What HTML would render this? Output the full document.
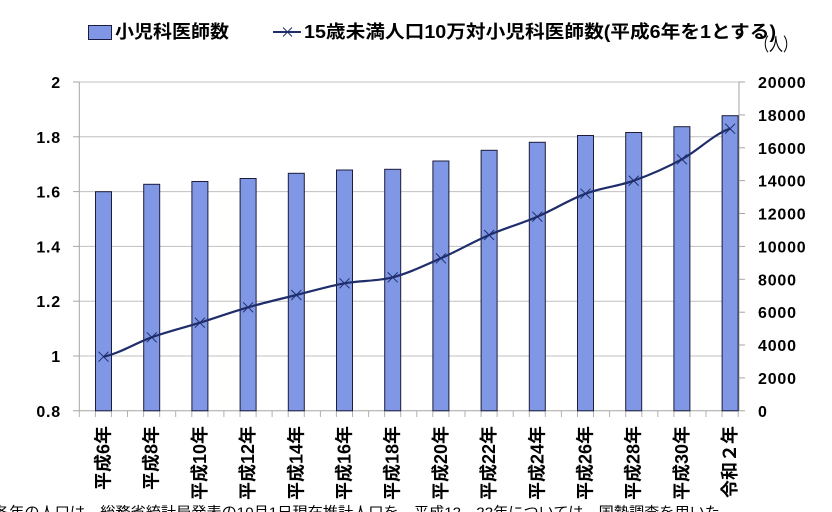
<!DOCTYPE html>
<html><head><meta charset="utf-8">
<style>
html,body{margin:0;padding:0;background:#fff;}
svg{display:block;}
text{font-family:"Liberation Sans","Noto Sans CJK JP",sans-serif;}
</style></head>
<body>
<svg width="832" height="512" viewBox="0 0 832 512" xmlns="http://www.w3.org/2000/svg">
<rect width="832" height="512" fill="#fff"/>
<!-- legend -->
<rect x="88.5" y="25.5" width="23" height="14" fill="#7f97e4" stroke="#1c1c3c" stroke-width="1"/>
<text x="115" y="38" font-size="18" font-weight="bold" textLength="114" lengthAdjust="spacingAndGlyphs">小児科医師数</text>
<line x1="273" y1="32" x2="301" y2="32" stroke="#1f2d6b" stroke-width="2"/>
<path d="M283,27.5 L292,36.5 M283,36.5 L292,27.5" stroke="#1f2d6b" stroke-width="1"/>
<text x="304" y="38" font-size="18" font-weight="bold" textLength="472" lengthAdjust="spacingAndGlyphs">15歳未満人口10万対小児科医師数(平成6年を1とする)</text>
<text x="755" y="51" font-size="18" textLength="42" lengthAdjust="spacingAndGlyphs">（人）</text>

<!-- gridlines -->
<g stroke="#c0c0c0" stroke-width="1">
<line x1="79" y1="82" x2="739" y2="82"/>
<line x1="79" y1="136.8" x2="739" y2="136.8"/>
<line x1="79" y1="191.6" x2="739" y2="191.6"/>
<line x1="79" y1="246.4" x2="739" y2="246.4"/>
<line x1="79" y1="301.2" x2="739" y2="301.2"/>
<line x1="79" y1="356" x2="739" y2="356"/>
</g>
<!-- axes -->
<g stroke="#a6a6a6" stroke-width="1">
<line x1="79.3" y1="82" x2="79.3" y2="411"/>
<line x1="739" y1="82" x2="739" y2="411"/>
<line x1="73" y1="410.8" x2="745" y2="410.8"/>
<line x1="73" y1="82" x2="79" y2="82"/>
<line x1="73" y1="136.8" x2="79" y2="136.8"/>
<line x1="73" y1="191.6" x2="79" y2="191.6"/>
<line x1="73" y1="246.4" x2="79" y2="246.4"/>
<line x1="73" y1="301.2" x2="79" y2="301.2"/>
<line x1="73" y1="356" x2="79" y2="356"/>
<line x1="739" y1="82" x2="745" y2="82"/>
<line x1="739" y1="114.9" x2="745" y2="114.9"/>
<line x1="739" y1="147.8" x2="745" y2="147.8"/>
<line x1="739" y1="180.6" x2="745" y2="180.6"/>
<line x1="739" y1="213.5" x2="745" y2="213.5"/>
<line x1="739" y1="246.4" x2="745" y2="246.4"/>
<line x1="739" y1="279.3" x2="745" y2="279.3"/>
<line x1="739" y1="312.2" x2="745" y2="312.2"/>
<line x1="739" y1="345" x2="745" y2="345"/>
<line x1="739" y1="377.9" x2="745" y2="377.9"/>
</g>
<!-- bottom ticks -->
<g stroke="#b0b0b0" stroke-width="1">
<line x1="79.3" y1="411" x2="79.3" y2="417"/><line x1="95.4" y1="411" x2="95.4" y2="417"/><line x1="111.4" y1="411" x2="111.4" y2="417"/><line x1="127.5" y1="411" x2="127.5" y2="417"/><line x1="143.6" y1="411" x2="143.6" y2="417"/><line x1="159.7" y1="411" x2="159.7" y2="417"/><line x1="175.7" y1="411" x2="175.7" y2="417"/><line x1="191.8" y1="411" x2="191.8" y2="417"/><line x1="207.9" y1="411" x2="207.9" y2="417"/><line x1="223.9" y1="411" x2="223.9" y2="417"/><line x1="240" y1="411" x2="240" y2="417"/><line x1="256.1" y1="411" x2="256.1" y2="417"/><line x1="272.1" y1="411" x2="272.1" y2="417"/><line x1="288.2" y1="411" x2="288.2" y2="417"/><line x1="304.3" y1="411" x2="304.3" y2="417"/><line x1="320.4" y1="411" x2="320.4" y2="417"/><line x1="336.4" y1="411" x2="336.4" y2="417"/><line x1="352.5" y1="411" x2="352.5" y2="417"/><line x1="368.6" y1="411" x2="368.6" y2="417"/><line x1="384.6" y1="411" x2="384.6" y2="417"/><line x1="400.7" y1="411" x2="400.7" y2="417"/><line x1="416.8" y1="411" x2="416.8" y2="417"/><line x1="432.8" y1="411" x2="432.8" y2="417"/><line x1="448.9" y1="411" x2="448.9" y2="417"/><line x1="465" y1="411" x2="465" y2="417"/><line x1="481.1" y1="411" x2="481.1" y2="417"/><line x1="497.1" y1="411" x2="497.1" y2="417"/><line x1="513.2" y1="411" x2="513.2" y2="417"/><line x1="529.3" y1="411" x2="529.3" y2="417"/><line x1="545.3" y1="411" x2="545.3" y2="417"/><line x1="561.4" y1="411" x2="561.4" y2="417"/><line x1="577.5" y1="411" x2="577.5" y2="417"/><line x1="593.5" y1="411" x2="593.5" y2="417"/><line x1="609.6" y1="411" x2="609.6" y2="417"/><line x1="625.7" y1="411" x2="625.7" y2="417"/><line x1="641.8" y1="411" x2="641.8" y2="417"/><line x1="657.8" y1="411" x2="657.8" y2="417"/><line x1="673.9" y1="411" x2="673.9" y2="417"/><line x1="690" y1="411" x2="690" y2="417"/><line x1="706" y1="411" x2="706" y2="417"/><line x1="722.1" y1="411" x2="722.1" y2="417"/><line x1="738.2" y1="411" x2="738.2" y2="417"/>
</g>

<!-- bars -->
<g fill="#7f97e4" stroke="#1c1c3c" stroke-width="1">
<rect x="95.5" y="191.7" width="16" height="219.1"/>
<rect x="143.7" y="184.3" width="16" height="226.5"/>
<rect x="191.9" y="181.5" width="16" height="229.3"/>
<rect x="240.1" y="178.5" width="16" height="232.3"/>
<rect x="288.3" y="173.3" width="16" height="237.5"/>
<rect x="336.5" y="170" width="16" height="240.8"/>
<rect x="384.7" y="169.3" width="16" height="241.5"/>
<rect x="432.9" y="161" width="16" height="249.8"/>
<rect x="481.1" y="150.3" width="16" height="260.5"/>
<rect x="529.3" y="142.3" width="16" height="268.5"/>
<rect x="577.5" y="135.5" width="16" height="275.3"/>
<rect x="625.7" y="132.5" width="16" height="278.3"/>
<rect x="673.9" y="126.7" width="16" height="284.1"/>
<rect x="722.1" y="115.7" width="16" height="295.1"/>
</g>

<!-- line -->
<path d="M103.5,356.7 C119.57,353.47 135.63,343.0 151.7,337.3 C167.77,331.63 183.83,327.7 199.9,322.7 C215.97,317.7 232.03,311.92 248.1,307.3 C264.17,302.68 280.23,299.0 296.3,295 C312.37,291.0 328.43,286.25 344.5,283.3 C360.57,280.35 376.63,281.47 392.7,277.3 C408.77,273.13 424.83,265.35 440.9,258.3 C456.97,251.25 473.03,241.93 489.1,235 C505.17,228.07 521.23,223.58 537.3,216.7 C553.37,209.82 569.43,199.7 585.5,193.7 C601.57,187.7 617.63,186.43 633.7,180.7 C649.77,174.97 665.83,167.97 681.9,159.3 C697.97,150.63 714.03,133.8 730.1,128.7" fill="none" stroke="#1f2d6b" stroke-width="2.2"/>
<g stroke="#1f2d6b" stroke-width="1" fill="none">
<path d="M98.5,351.7 l10,10 m0,-10 l-10,10"/>
<path d="M146.7,332.3 l10,10 m0,-10 l-10,10"/>
<path d="M194.9,317.7 l10,10 m0,-10 l-10,10"/>
<path d="M243.1,302.3 l10,10 m0,-10 l-10,10"/>
<path d="M291.3,290 l10,10 m0,-10 l-10,10"/>
<path d="M339.5,278.3 l10,10 m0,-10 l-10,10"/>
<path d="M387.7,272.3 l10,10 m0,-10 l-10,10"/>
<path d="M435.9,253.3 l10,10 m0,-10 l-10,10"/>
<path d="M484.1,230 l10,10 m0,-10 l-10,10"/>
<path d="M532.3,211.7 l10,10 m0,-10 l-10,10"/>
<path d="M580.5,188.7 l10,10 m0,-10 l-10,10"/>
<path d="M628.7,175.7 l10,10 m0,-10 l-10,10"/>
<path d="M676.9,154.3 l10,10 m0,-10 l-10,10"/>
<path d="M725.1,123.7 l10,10 m0,-10 l-10,10"/>
</g>

<!-- left labels -->
<g font-size="16" font-weight="bold" text-anchor="end" fill="#000" letter-spacing="0.8">
<text x="61" y="88">2</text>
<text x="61" y="142.8">1.8</text>
<text x="61" y="197.6">1.6</text>
<text x="61" y="252.4">1.4</text>
<text x="61" y="307.2">1.2</text>
<text x="61" y="362">1</text>
<text x="61" y="416.8">0.8</text>
</g>
<!-- right labels -->
<g font-size="16" font-weight="bold" fill="#000" letter-spacing="0.8">
<text x="758" y="88">20000</text>
<text x="758" y="120.9">18000</text>
<text x="758" y="153.8">16000</text>
<text x="758" y="186.6">14000</text>
<text x="758" y="219.5">12000</text>
<text x="758" y="252.4">10000</text>
<text x="758" y="285.3">8000</text>
<text x="758" y="318.2">6000</text>
<text x="758" y="351">4000</text>
<text x="758" y="383.9">2000</text>
<text x="758" y="416.8">0</text>
</g>

<!-- x labels -->
<g font-size="18" font-weight="bold" fill="#000" text-anchor="end" dominant-baseline="central">
<text transform="translate(103.5,426) rotate(-90)">平成6年</text>
<text transform="translate(151.7,426) rotate(-90)">平成8年</text>
<text transform="translate(199.9,426) rotate(-90)">平成10年</text>
<text transform="translate(248.1,426) rotate(-90)">平成12年</text>
<text transform="translate(296.3,426) rotate(-90)">平成14年</text>
<text transform="translate(344.5,426) rotate(-90)">平成16年</text>
<text transform="translate(392.7,426) rotate(-90)">平成18年</text>
<text transform="translate(440.9,426) rotate(-90)">平成20年</text>
<text transform="translate(489.1,426) rotate(-90)">平成22年</text>
<text transform="translate(537.3,426) rotate(-90)">平成24年</text>
<text transform="translate(585.5,426) rotate(-90)">平成26年</text>
<text transform="translate(633.7,426) rotate(-90)">平成28年</text>
<text transform="translate(681.9,426) rotate(-90)">平成30年</text>
<text transform="translate(730.1,426) rotate(-90)">令和２年</text>
</g>

<!-- caption (cut off at bottom) -->
<text x="-6" y="517" font-size="14" fill="#000" textLength="726" lengthAdjust="spacingAndGlyphs">各年の人口は、総務省統計局発表の10月1日現在推計人口を、平成12、22年については、国勢調査を用いた</text>
</svg>
</body></html>
